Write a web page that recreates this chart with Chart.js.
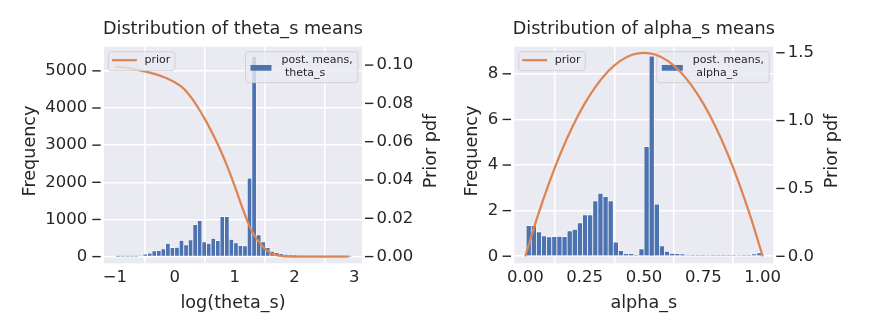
<!DOCTYPE html>
<html><head><meta charset="utf-8">
<script src="https://cdn.jsdelivr.net/npm/chart.js@4.4.0/dist/chart.umd.min.js"></script>
<style>
html,body{margin:0;padding:0;background:#fff;width:872px;height:336px;overflow:hidden}
.box{position:absolute;top:0;height:336px}
#b1{left:0;width:450px}
#b2{left:450px;width:422px}
</style></head><body>
<div class="box" id="b1"><canvas id="c1"></canvas></div>
<div class="box" id="b2"><canvas id="c2"></canvas></div>
<script>
// ---------- theta_s panel ----------
const thetaBinCenters = [-0.949,-0.873,-0.797,-0.722,-0.646,-0.570,-0.494,-0.418,-0.343,-0.267,
  -0.191,-0.115,-0.039,0.036,0.112,0.188,0.264,0.340,0.415,0.491,
  0.567,0.643,0.719,0.794,0.870,0.946,1.022,1.098,1.173,1.249,
  1.325,1.401,1.477,1.553,1.628,1.704,1.780,1.856,1.932,2.007,
  2.083,2.159,2.235,2.311,2.386,2.462,2.538,2.614,2.690,2.765,2.841,2.917];
const thetaCounts = [1,2,3,5,8,18,70,97,151,162,
  205,358,243,251,439,313,448,862,970,394,
  358,493,431,1078,1078,467,367,296,286,2110,
  5380,583,394,242,143,108,80,62,48,38,
  28,20,14,10,7,5,3,2,1,1,0,1];
const thetaPriorX = [-1.0,-0.9,-0.8,-0.7,-0.6,-0.5,-0.4,-0.3,-0.2,-0.1,
  0.0,0.1,0.2,0.3,0.4,0.5,0.6,0.7,0.8,0.9,
  1.0,1.1,1.2,1.3,1.4,1.5,1.6,1.7,1.8,1.9,
  2.0,2.1,2.2,2.3,2.4,2.5,2.6,2.7,2.8,2.9];
const thetaPriorPdf = [0.0992,0.0989,0.0985,0.0980,0.0974,0.0967,0.0959,0.0950,0.0939,0.0926,
  0.0910,0.0890,0.0860,0.0820,0.0772,0.0719,0.0661,0.0598,0.0529,0.0453,
  0.0369,0.0281,0.0196,0.0125,0.0080,0.0043,0.0019,0.0008,0.0003,0.0001,
  0,0,0,0,0,0,0,0,0,0];
const thetaXTicks = [-1,0,1,2,3];
const thetaXTickLabels = ['\u22121','0','1','2','3'];
const thetaYTicks = [0,1000,2000,3000,4000,5000];
const thetaYTickLabels = ['0','1000','2000','3000','4000','5000'];
const thetaY2Ticks = [0,0.02,0.04,0.06,0.08,0.10];
const thetaY2TickLabels = ['0.00','0.02','0.04','0.06','0.08','0.10'];

// ---------- alpha_s panel ----------
const alphaBinCenters = [0.0143,0.0359,0.0575,0.0791,0.1007,0.1223,0.1438,0.1654,0.1870,0.2086,
  0.2302,0.2518,0.2734,0.2950,0.3166,0.3382,0.3597,0.3813,0.4029,0.4245,
  0.4461,0.4677,0.4893,0.5109,0.5325,0.5541,0.5756,0.5972,0.6188,0.6404,
  0.6620,0.6836,0.7052,0.7268,0.7484,0.7700,0.7915,0.8131,0.8347,0.8563,
  0.8779,0.8995,0.9211,0.9427,0.9643,0.9859];
const alphaCounts = [1.34,1.34,1.07,0.89,0.85,0.86,0.87,0.86,1.11,1.18,
  1.46,1.81,1.81,2.43,2.76,2.61,2.43,0.62,0.25,0.11,
  0.11,0.04,0.32,4.81,8.78,2.29,0.45,0.21,0.12,0.11,
  0.10,0.03,0.05,0.02,0.02,0.03,0.02,0.01,0.02,0.01,
  0.02,0.03,0.04,0.05,0.10,0.15];
const alphaPriorX = [0,0.05,0.1,0.15,0.2,0.25,0.3,0.35,0.4,0.45,0.5,
  0.55,0.6,0.65,0.7,0.75,0.8,0.85,0.9,0.95,1.0];
const alphaPriorPdf = [0,0.285,0.54,0.765,0.96,1.125,1.26,1.365,1.44,1.485,1.5,
  1.485,1.44,1.365,1.26,1.125,0.96,0.765,0.54,0.285,0];
const alphaXTicks = [0,0.25,0.5,0.75,1.0];
const alphaXTickLabels = ['0.00','0.25','0.50','0.75','1.00'];
const alphaYTicks = [0,2,4,6,8];
const alphaYTickLabels = ['0','2','4','6','8'];
const alphaY2Ticks = [0,0.5,1.0,1.5];
const alphaY2TickLabels = ['0.0','0.5','1.0','1.5'];

const FONT = "'DejaVu Sans'";
const TXT = '#262626';
const BAR = '#4C72B0';
const LINE = '#DD8452';
const BG = '#EAEAF2';

function roundRect(ctx,x,y,w,h,r){
  ctx.beginPath();
  ctx.moveTo(x+r,y);ctx.lineTo(x+w-r,y);ctx.quadraticCurveTo(x+w,y,x+w,y+r);
  ctx.lineTo(x+w,y+h-r);ctx.quadraticCurveTo(x+w,y+h,x+w-r,y+h);
  ctx.lineTo(x+r,y+h);ctx.quadraticCurveTo(x,y+h,x,y+h-r);
  ctx.lineTo(x,y+r);ctx.quadraticCurveTo(x,y,x+r,y);ctx.closePath();
}
function legendBox(ctx,x,y,w,h){
  ctx.save();
  roundRect(ctx,x,y,w,h,3);
  ctx.fillStyle='rgba(234,234,242,0.8)';ctx.fill();
  ctx.strokeStyle='rgba(204,204,204,0.8)';ctx.lineWidth=1;ctx.stroke();
  ctx.restore();
}

function makeChart(id, g){
  const decor = {
    id:'decor',
    beforeDraw(chart){
      const a=chart.chartArea, ctx=chart.ctx;
      ctx.save();ctx.fillStyle=BG;ctx.fillRect(a.left,a.top,a.right-a.left,a.bottom-a.top);ctx.restore();
    },
    afterDatasetDraw(chart,args){
      if(args.index!==1) return;
      // histogram legend (upper right)
      const a=chart.chartArea, ctx=chart.ctx;
      const w=112.3,h=31,x=a.right-4.2-w,y=a.top+5;
      legendBox(ctx,x,y,w,h);
      ctx.save();
      ctx.fillStyle=BAR;ctx.fillRect(x+5,y+13.3,21,5.7);
      ctx.fillStyle=TXT;ctx.font='11px '+FONT;ctx.textBaseline='middle';ctx.textAlign='left';
      ctx.fillText('post. means,',x+36,y+8.6);
      ctx.fillText(' '+g.varName,x+36,y+21);
      ctx.restore();
    },
    afterDatasetsDraw(chart){
      const a=chart.chartArea, ctx=chart.ctx;
      // prior legend (upper left)
      const x=a.left+4.4,y=a.top+5,w=66.5,h=19;
      legendBox(ctx,x,y,w,h);
      ctx.save();
      ctx.strokeStyle=LINE;ctx.lineWidth=2.25;
      ctx.beginPath();ctx.moveTo(x+3.5,y+8.5);ctx.lineTo(x+28.5,y+8.5);ctx.stroke();
      ctx.fillStyle=TXT;ctx.font='11px '+FONT;ctx.textBaseline='middle';ctx.textAlign='left';
      ctx.fillText('prior',x+36,y+8.6);
      ctx.restore();
    },
    afterDraw(chart){
      const a=chart.chartArea, ctx=chart.ctx;
      ctx.save();
      // tick marks
      ctx.strokeStyle=TXT;ctx.lineWidth=1.4;
      const ys=chart.scales.y, y2=chart.scales.y2;
      ys.ticks.forEach(t=>{const p=ys.getPixelForValue(t.value);ctx.beginPath();ctx.moveTo(a.left-11.7,p);ctx.lineTo(a.left-3.3,p);ctx.stroke();});
      y2.ticks.forEach(t=>{const p=y2.getPixelForValue(t.value);ctx.beginPath();ctx.moveTo(a.right+3,p);ctx.lineTo(a.right+11.3,p);ctx.stroke();});
      ctx.fillStyle=TXT;
      // title
      ctx.font='17.6px '+FONT;ctx.textAlign='center';ctx.textBaseline='alphabetic';
      const cx=(a.left+a.right)/2;
      ctx.fillText(g.title,cx,34.2);
      // x label
      ctx.fillText(g.xLabel,cx,308.3);
      // y labels
      ctx.save();ctx.translate(g.yLabelX,151);ctx.rotate(-Math.PI/2);ctx.fillText('Frequency',0,0);ctx.restore();
      ctx.save();ctx.translate(g.y2LabelX,151);ctx.rotate(-Math.PI/2);ctx.fillText('Prior pdf',0,0);ctx.restore();
      ctx.restore();
    }
  };
  const tickFont={family:FONT,size:16.5};
  return new Chart(document.getElementById(id),{
    data:{
      datasets:[
        {type:'line',label:'prior',data:g.px.map((v,i)=>({x:v,y:g.py[i]})),yAxisID:'y2',
         borderColor:LINE,borderWidth:2.25,pointRadius:0,cubicInterpolationMode:'monotone',fill:false},
        {type:'bar',label:'post. means',data:g.bx.map((v,i)=>({x:v,y:g.by[i]})),yAxisID:'y',
         backgroundColor:BAR,borderColor:'#ffffff',borderWidth:0.7,borderSkipped:'start',
         barPercentage:1.0,categoryPercentage:1.0,grouped:false}
      ]
    },
    options:{
      responsive:true,maintainAspectRatio:false,animation:false,devicePixelRatio:1,
      layout:{padding:{top:46.7,left:0,right:0,bottom:0}},
      plugins:{legend:{display:false},tooltip:{enabled:false},title:{display:false}},
      scales:{
        x:{type:'linear',min:g.xmin,max:g.xmax,offset:false,
          afterBuildTicks:s=>{s.ticks=g.xt.map(v=>({value:v}));},
          afterFit:s=>{s.height=72.7;},
          ticks:{callback:(v,i)=>g.xtl[i],font:tickFont,color:TXT,padding:5,maxRotation:0,autoSkip:false},
          grid:{color:'#ffffff',lineWidth:1.5,drawTicks:false},border:{display:false}},
        y:{type:'linear',position:'left',min:g.ymin,max:g.ymax,
          afterBuildTicks:s=>{s.ticks=g.yt.map(v=>({value:v}));},
          afterFit:s=>{s.width=g.left;},
          ticks:{callback:(v,i)=>g.ytl[i],font:tickFont,color:TXT,padding:g.ypad,autoSkip:false},
          grid:{color:'#ffffff',lineWidth:1.5,drawTicks:false},border:{display:false}},
        y2:{type:'linear',position:'right',min:g.y2min,max:g.y2max,
          afterBuildTicks:s=>{s.ticks=g.y2t.map(v=>({value:v}));},
          afterFit:s=>{s.width=g.rightW;},
          ticks:{callback:(v,i)=>g.y2tl[i],font:tickFont,color:TXT,padding:14.5,autoSkip:false},
          grid:{display:false,drawTicks:false},border:{display:false}}
      }
    },
    plugins:[decor]
  });
}

makeChart('c1',{
  title:'Distribution of theta_s means',xLabel:'log(theta_s)',varName:'theta_s',
  px:thetaPriorX,py:thetaPriorPdf,bx:thetaBinCenters,by:thetaCounts,
  xmin:-1.183,xmax:3.128,xt:thetaXTicks,xtl:thetaXTickLabels,
  ymin:-180,ymax:5650,yt:thetaYTicks,ytl:thetaYTickLabels,
  y2min:-0.0035,y2max:0.1096,y2t:thetaY2Ticks,y2tl:thetaY2TickLabels,
  left:104,rightW:450-362,ypad:16.7,yLabelX:34.8,y2LabelX:436.1
});
makeChart('c2',{
  title:'Distribution of alpha_s means',xLabel:'alpha_s',varName:'alpha_s',
  px:alphaPriorX,py:alphaPriorPdf,bx:alphaBinCenters,by:alphaCounts,
  xmin:-0.0464,xmax:1.0447,xt:alphaXTicks,xtl:alphaXTickLabels,
  ymin:-0.31,ymax:9.19,yt:alphaYTicks,ytl:alphaYTickLabels,
  y2min:-0.0516,y2max:1.5446,y2t:alphaY2Ticks,y2tl:alphaY2TickLabels,
  left:514.3-450,rightW:422-(773.3-450),ypad:16,yLabelX:477.4-450,y2LabelX:837.2-450
});
</script>
</body></html>
